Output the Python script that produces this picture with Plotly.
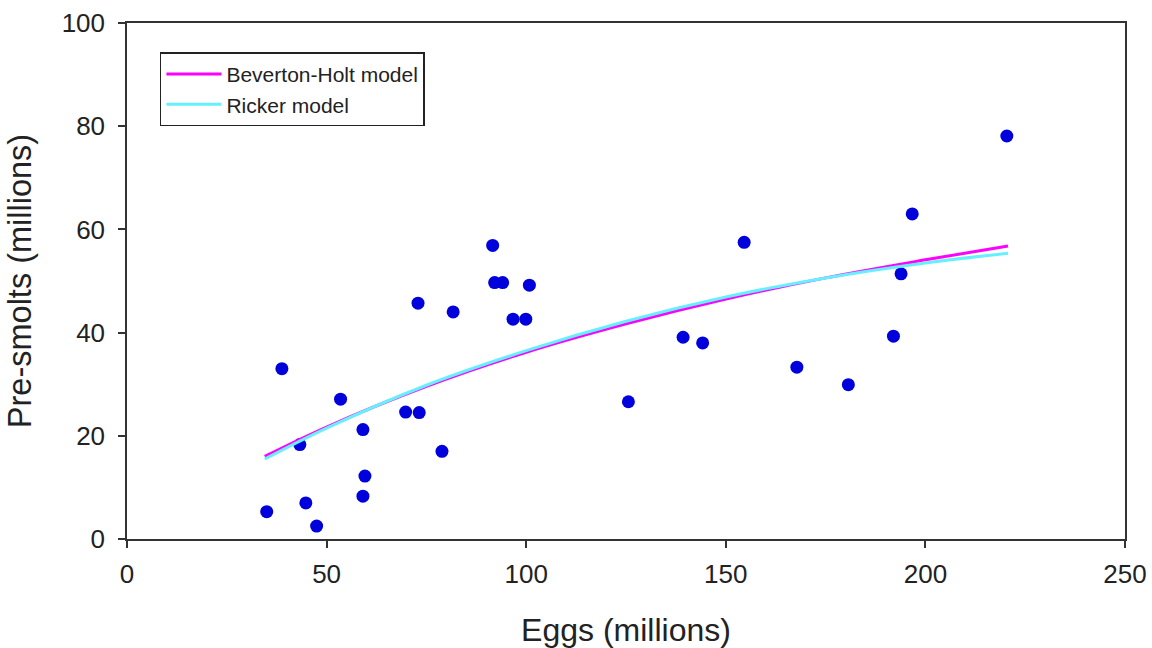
import plotly.graph_objects as go

# Observed data (millions)
eggs = [35.0, 38.8, 43.3, 44.8, 47.5, 53.5, 59.1, 59.6, 59.1, 69.8,
        73.2, 72.9, 78.9, 81.7, 91.6, 92.1, 94.1, 96.7, 99.9, 100.8,
        125.6, 139.3, 144.2, 154.6, 167.8, 180.7, 192.0, 193.9, 196.7, 220.4]
presmolts = [5.3, 33.0, 18.3, 7.0, 2.5, 27.1, 21.2, 12.2, 8.3, 24.6,
             24.5, 45.7, 17.0, 44.0, 56.9, 49.7, 49.7, 42.6, 42.6, 49.2,
             26.6, 39.1, 38.0, 57.5, 33.3, 29.9, 39.3, 51.4, 63.0, 78.1]

# Model curves
curve_eggs = [34.5, 50, 75, 100, 125, 150, 175, 200, 220.7]
bh_vals = [16.0, 21.7, 29.6, 36.2, 41.7, 46.5, 50.6, 54.1, 56.8]
ricker_vals = [15.5, 21.5, 29.8, 36.5, 42.2, 46.9, 50.6, 53.5, 55.4]

FONT = "Liberation Sans, Arial, sans-serif"

fig = go.Figure()
fig.add_trace(go.Scatter(
    x=eggs, y=presmolts, mode="markers", showlegend=False,
    marker=dict(color="#0000dd", size=13, line=dict(width=0)),
))
fig.add_trace(go.Scatter(
    x=curve_eggs, y=bh_vals, mode="lines", name="Beverton-Holt model",
    line=dict(color="#ff00ff", width=3, shape="spline"),
))
fig.add_trace(go.Scatter(
    x=curve_eggs, y=ricker_vals, mode="lines", name="Ricker model",
    line=dict(color="#66f0ff", width=3, shape="spline"),
))

axis_common = dict(
    showgrid=False, zeroline=False, showline=True, linecolor="#333333",
    linewidth=1.5, mirror=True, ticks="outside", ticklen=7, tickwidth=1.5,
    tickcolor="#333333", tickfont=dict(family=FONT, size=26, color="#222222"),
    automargin=False,
)

fig.update_layout(
    width=1152, height=648,
    margin=dict(l=127, r=27, t=23, b=108.5),
    paper_bgcolor="white", plot_bgcolor="white",
    font=dict(family=FONT, color="#222222"),
    xaxis=dict(range=[0, 250], tick0=0, dtick=50, ticklabelstandoff=4,
               title=dict(text="Eggs (millions)", font=dict(family=FONT, size=32, color="#222222"),
                          standoff=34),
               **axis_common),
    yaxis=dict(range=[0, 100], tick0=0, dtick=20, ticklabelstandoff=8,
               title=dict(text="Pre-smolts (millions)", font=dict(family=FONT, size=32.5, color="#222222"),
                          standoff=20),
               **axis_common),
    legend=dict(x=0.033, y=0.943, xanchor="left", yanchor="top",
                bgcolor="white", bordercolor="#222222", borderwidth=1.5,
                font=dict(family=FONT, size=21, color="#222222"),
                itemwidth=55, tracegroupgap=0),
)

fig.write_html("out.html")
